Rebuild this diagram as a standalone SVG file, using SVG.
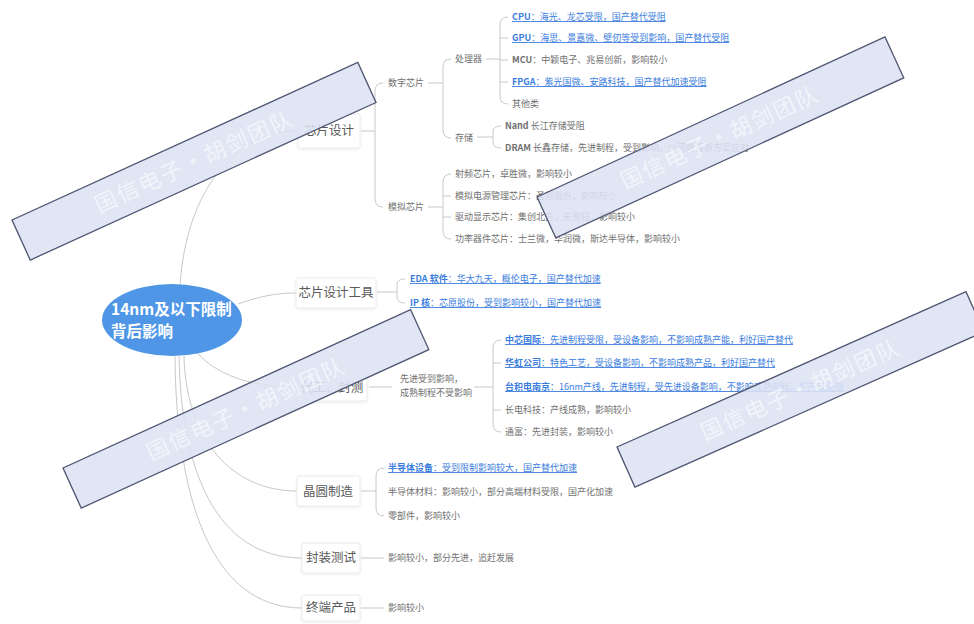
<svg xmlns="http://www.w3.org/2000/svg" width="974" height="624" viewBox="0 0 974 624">
<defs>
<filter id="sh" x="-20%" y="-20%" width="140%" height="140%"><feDropShadow dx="0" dy="1" stdDeviation="1.5" flood-color="#000" flood-opacity="0.08"/></filter>
<style>
.c{fill:none;stroke:#c8c8c8;stroke-width:1}
.box{fill:#fff;stroke:#ececec;stroke-width:1}
.n1{font:12.5px "Noto Sans CJK SC","Noto Sans",sans-serif;fill:#5a5a5a;text-anchor:middle}
.t{font:9px "Noto Sans CJK SC","Noto Sans",sans-serif;fill:#707070}
.lk{fill:#3b7ddd;text-decoration:underline}
.b{font-weight:bold}
.wm rect{fill:#dde2f4;fill-opacity:0.88;stroke:#4d5570;stroke-width:1.3}
.wm text{font:22px "Noto Sans CJK SC",sans-serif;fill:#fff;fill-opacity:0.6;text-anchor:middle;letter-spacing:2px}
</style>
</defs>
<rect width="974" height="624" fill="#fff"/>

<g id="connectors">
<path class="c" d="M180,286 C186,190 236,131 298,131"/>
<path class="c" d="M238,304 C258,297 274,293 296,293"/>
<path class="c" d="M196,352 C222,380 260,387 297,387"/>
<path class="c" d="M184,356 C186,440 232,491 297,491"/>
<path class="c" d="M179,356 C181,470 216,558 302,558"/>
<path class="c" d="M175,356 C176,500 212,608 302,608"/>
<path class="c" d="M361,131 H375 M383,83 Q375,83 375,91 V199 Q375,207 383,207"/>
<path class="c" d="M428,83 H443 M451,59 Q443,59 443,67 V130 Q443,138 451,138"/>
<path class="c" d="M486,59 H500 M508,17 Q500,17 500,25 V96 Q500,104 508,104 M500,38 H508 M500,60 H508 M500,82 H508"/>
<path class="c" d="M477,137 H493 M501,126 Q493,126 493,132 V142 Q493,148 501,148"/>
<path class="c" d="M428,207 H443 M451,174 Q443,174 443,182 V231 Q443,239 451,239 M443,196 H451 M443,217 H451"/>
<path class="c" d="M377,292 H397 M405,279 Q397,279 397,285 V297 Q397,303 405,303"/>
<path class="c" d="M369,387 H392 M474,387 H493 M501,340 Q493,340 493,348 V424 Q493,432 501,432 M493,363 H501 M493,410 H501"/>
<path class="c" d="M361,491 H376 M384,468 Q376,468 376,476 V508 Q376,516 384,516"/>
<path class="c" d="M361,558 H384"/>
<path class="c" d="M361,608 H384"/>
</g>

<g id="root">
<ellipse cx="172" cy="320" rx="70" ry="36" fill="#4f97e6"/>
<text x="111" y="315" font-family="Noto Sans CJK SC, sans-serif" font-size="15.5" font-weight="bold" fill="#fff">14nm及以下限制</text>
<text x="111" y="337" font-family="Noto Sans CJK SC, sans-serif" font-size="15.5" font-weight="bold" fill="#fff">背后影响</text>
</g>

<g id="n-design">
<rect class="box" x="298" y="114" width="62" height="34" rx="2" filter="url(#sh)"/>
<text class="n1" x="329" y="135">芯片设计</text>
</g>
<g id="n-digital"><text class="t" x="388" y="86">数字芯片</text></g>
<g id="n-cpu-group"><text class="t" x="455" y="62">处理器</text></g>
<g id="n-cpu"><text class="t lk" x="512" y="20"><tspan class="b">CPU</tspan>：海光、龙芯受限，国产替代受阻</text></g>
<g id="n-gpu"><text class="t lk" x="512" y="41"><tspan class="b">GPU</tspan>：海思、景嘉微、壁仞等受到影响，国产替代受阻</text></g>
<g id="n-mcu"><text class="t" x="512" y="63"><tspan class="b">MCU</tspan>：中颖电子、兆易创新，影响较小</text></g>
<g id="n-fpga"><text class="t lk" x="512" y="85"><tspan class="b">FPGA</tspan>：紫光国微、安路科技，国产替代加速受阻</text></g>
<g id="n-other"><text class="t" x="512" y="107">其他类</text></g>
<g id="n-storage"><text class="t" x="455" y="141">存储</text></g>
<g id="n-nand"><text class="t" x="505" y="129"><tspan class="b">Nand</tspan> 长江存储受阻</text></g>
<g id="n-dram"><text class="t" x="505" y="151"><tspan class="b">DRAM</tspan> 长鑫存储，先进制程，受到影响，公司需要新方案应对</text></g>
<g id="n-analog"><text class="t" x="388" y="210">模拟芯片</text></g>
<g id="n-a1"><text class="t" x="455" y="177">射频芯片，卓胜微，影响较小</text></g>
<g id="n-a2"><text class="t" x="455" y="199">模拟电源管理芯片：圣邦股份，影响较小</text></g>
<g id="n-a3"><text class="t" x="455" y="220">驱动显示芯片：集创北方，天德钰，影响较小</text></g>
<g id="n-a4"><text class="t" x="455" y="242">功率器件芯片：士兰微，华润微，斯达半导体，影响较小</text></g>

<g id="n-tools">
<rect class="box" x="296" y="278" width="80" height="30" rx="2" filter="url(#sh)"/>
<text class="n1" x="336" y="297">芯片设计工具</text>
</g>
<g id="n-eda"><text class="t lk" x="410" y="282"><tspan class="b">EDA 软件</tspan>：华大九天，概伦电子，国产替代加速</text></g>
<g id="n-ip"><text class="t lk" x="410" y="306"><tspan class="b">IP 核</tspan>：芯原股份，受到影响较小，国产替代加速</text></g>

<g id="n-foundry">
<rect class="box" x="297" y="374" width="70" height="27" rx="2" filter="url(#sh)"/>
<text class="n1" x="332" y="392">代工、封测</text>
</g>
<g id="n-fnote"><text class="t" x="400" y="382">先进受到影响，</text><text class="t" x="400" y="396">成熟制程不受影响</text></g>
<g id="n-f1"><text class="t lk" x="505" y="343"><tspan class="b">中芯国际</tspan>：先进制程受限，受设备影响，不影响成熟产能，利好国产替代</text></g>
<g id="n-f2"><text class="t lk" x="505" y="366"><tspan class="b">华虹公司</tspan>：特色工艺，受设备影响，不影响成熟产品，利好国产替代</text></g>
<g id="n-f3"><text class="t lk" x="505" y="390"><tspan class="b">台积电南京</tspan>：16nm产线，先进制程，受先进设备影响，不影响成熟制程，扩产或受阻</text></g>
<g id="n-f4"><text class="t" x="505" y="413">长电科技：产线成熟，影响较小</text></g>
<g id="n-f5"><text class="t" x="505" y="435">通富：先进封装，影响较小</text></g>

<g id="n-wafer">
<rect class="box" x="297" y="476" width="63" height="30" rx="2" filter="url(#sh)"/>
<text class="n1" x="328" y="496">晶圆制造</text>
</g>
<g id="n-w1"><text class="t lk" x="388" y="471"><tspan class="b">半导体设备</tspan>：受到限制影响较大，国产替代加速</text></g>
<g id="n-w2"><text class="t" x="388" y="495">半导体材料：影响较小，部分高端材料受限，国产化加速</text></g>
<g id="n-w3"><text class="t" x="388" y="519">零部件，影响较小</text></g>

<g id="n-test">
<rect class="box" x="302" y="543" width="58" height="30" rx="2" filter="url(#sh)"/>
<text class="n1" x="331" y="562">封装测试</text>
</g>
<g id="n-t1"><text class="t" x="388" y="561">影响较小，部分先进，追赶发展</text></g>

<g id="n-end">
<rect class="box" x="302" y="595" width="58" height="26" rx="2" filter="url(#sh)"/>
<text class="n1" x="331" y="612">终端产品</text>
</g>
<g id="n-e1"><text class="t" x="388" y="611">影响较小</text></g>

<g class="wm">
<g transform="translate(12,220) rotate(-24.5)"><rect width="380" height="44"/><text x="190" y="30">国信电子·胡剑团队</text></g>
<g transform="translate(537,197) rotate(-24.7)"><rect width="383" height="45"/><text x="191" y="30">国信电子·胡剑团队</text></g>
<g transform="translate(63,468) rotate(-24.5)"><rect width="382" height="44"/><text x="191" y="30">国信电子·胡剑团队</text></g>
<g transform="translate(617,447) rotate(-24)"><rect width="382" height="44"/><text x="191" y="30">国信电子·胡剑团队</text></g>
</g>
</svg>
